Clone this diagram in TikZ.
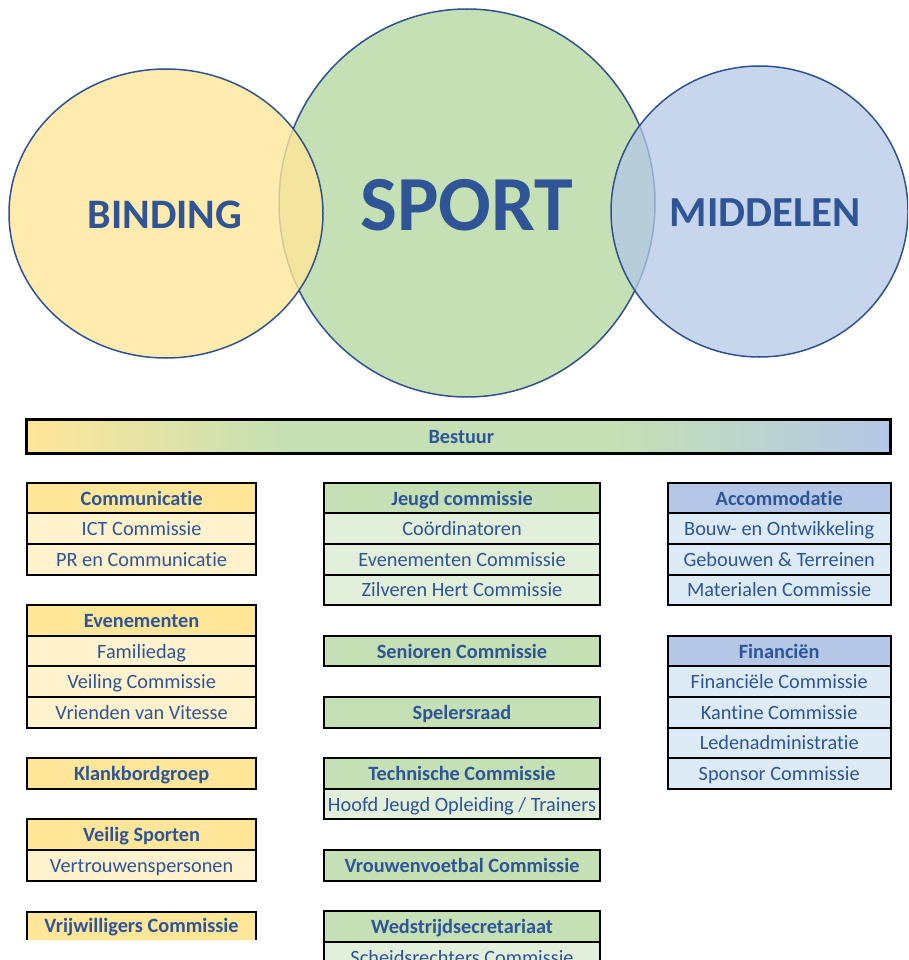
\documentclass[tikz,border=0pt]{standalone}
\usepackage{fontspec}
\setmainfont{Carlito}[Ligatures=NoCommon]

\definecolor{txtblue}{HTML}{2F5597}
\definecolor{ringblue}{HTML}{2F528F}
\definecolor{ylwhead}{HTML}{FFE699}
\definecolor{ylwitem}{HTML}{FFF2CC}
\definecolor{grnhead}{HTML}{C5E0B4}
\definecolor{grnitem}{HTML}{E2EFDA}
\definecolor{bluhead}{HTML}{B4C7E7}
\definecolor{bluitem}{HTML}{DDEBF7}

% yellow -> green -> blue for the board bar
\pgfdeclarehorizontalshading{bestuurshade}{100bp}{color(0bp)=(ylwhead); color(25bp)=(ylwhead); color(40bp)=(grnhead); color(59bp)=(grnhead); color(75bp)=(bluhead); color(100bp)=(bluhead)}

\tikzset{
  ring/.style={draw=ringblue, line width=1.5pt},
  bigword/.style={text=txtblue, font=\bfseries\fontsize{#1}{#1}\selectfont},
  box/.style={draw, line width=2pt, inner sep=0pt, outer sep=0pt, minimum height=30.6pt,
    text height=17pt, text depth=3pt, text=txtblue, font=\fontsize{20.3}{22}\selectfont},
  head/.style={box, fill=#1, font=\bfseries\fontsize{20.3}{22}\selectfont},
  item/.style={box, fill=#1},
  lcol/.style={minimum width=229.3pt},
  mcol/.style={minimum width=275.4pt},
  rcol/.style={minimum width=223pt}
}

\begin{document}
\begin{tikzpicture}[x=1pt, y=-1pt]

\useasboundingbox (0,0) rectangle (908,960);
\clip (0,0) rectangle (908,960);

% The three circles
\draw[ring, fill=grnhead] (467,203) ellipse (188 and 194);
\draw[ring, fill=ylwhead, fill opacity=0.8] (166,213.5) ellipse (157 and 144.5);
\draw[ring, fill=bluhead, fill opacity=0.75] (759.5,211.5) ellipse (148.5 and 145.5);

\node[bigword=42] (binding) at (165,214.5) {BINDING};
\node[bigword=78] (sport) at (467,205) {SPORT};
\node[bigword=42.8] (middelen) at (765,212.5) {MIDDELEN};

% Board bar
\node[box, line width=3pt, minimum width=863.7pt, minimum height=33.7pt, shade, shading=bestuurshade,
  font=\bfseries\fontsize{20.3}{22}\selectfont] (bestuur) at (458.3,436.6) {\hspace{6pt}Bestuur};

% Left column (binding)
\node[head=ylwhead, lcol] (communicatie) at (141.6,498) {Communicatie};
\node[item=ylwitem, lcol] (ict) at (141.6,528.6) {ICT Commissie};
\node[item=ylwitem, lcol] (prcomm) at (141.6,559.2) {PR en Communicatie};

\node[head=ylwhead, lcol] (evenementen) at (141.6,620.4) {Evenementen};
\node[item=ylwitem, lcol] (familiedag) at (141.6,651) {Familiedag};
\node[item=ylwitem, lcol] (veiling) at (141.6,681.6) {Veiling Commissie};
\node[item=ylwitem, lcol] (vrienden) at (141.6,712.2) {Vrienden van Vitesse};

\node[head=ylwhead, lcol] (klankbord) at (141.6,773.4) {Klankbordgroep};

\node[head=ylwhead, lcol] (veilig) at (141.6,834.6) {Veilig Sporten};
\node[item=ylwitem, lcol] (vertrouwen) at (141.6,865.2) {Vertrouwenspersonen};

\node[head=ylwhead, lcol, draw=none, minimum height=28pt] (vrijwilligers) at (141.6,925.5) {Vrijwilligers Commissie};
\draw[line width=2pt] (vrijwilligers.south west) |- (vrijwilligers.north east) -- (vrijwilligers.south east);

% Middle column (sport)
\node[head=grnhead, mcol] (jeugd) at (462,498) {Jeugd commissie};
\node[item=grnitem, mcol] (coord) at (462,528.6) {Coördinatoren};
\node[item=grnitem, mcol] (evcomm) at (462,559.2) {Evenementen Commissie};
\node[item=grnitem, mcol] (zilver) at (462,589.8) {Zilveren Hert Commissie};

\node[head=grnhead, mcol] (senioren) at (462,651) {Senioren Commissie};

\node[head=grnhead, mcol] (spelers) at (462,712.2) {Spelersraad};

\node[head=grnhead, mcol] (technisch) at (462,773.4) {Technische Commissie};
\node[item=grnitem, mcol] (hoofd) at (462,804) {Hoofd Jeugd Opleiding / Trainers};

\node[head=grnhead, mcol] (vrouwen) at (462,865.2) {Vrouwenvoetbal Commissie};

\node[head=grnhead, mcol] (wedstrijd) at (462,926.4) {Wedstrijdsecretariaat};
\node[item=grnitem, mcol] (scheids) at (462,957) {Scheidsrechters Commissie};

% Right column (middelen)
\node[head=bluhead, rcol] (accom) at (779.2,498) {Accommodatie};
\node[item=bluitem, rcol] (bouw) at (779.2,528.6) {Bouw- en Ontwikkeling};
\node[item=bluitem, rcol] (gebouwen) at (779.2,559.2) {Gebouwen \& Terreinen};
\node[item=bluitem, rcol] (materialen) at (779.2,589.8) {Materialen Commissie};

\node[head=bluhead, rcol] (financien) at (779.2,651) {Financiën};
\node[item=bluitem, rcol] (fincomm) at (779.2,681.6) {Financiële Commissie};
\node[item=bluitem, rcol] (kantine) at (779.2,712.2) {Kantine Commissie};
\node[item=bluitem, rcol] (leden) at (779.2,742.8) {Ledenadministratie};
\node[item=bluitem, rcol] (sponsor) at (779.2,773.4) {Sponsor Commissie};

\end{tikzpicture}
\end{document}
